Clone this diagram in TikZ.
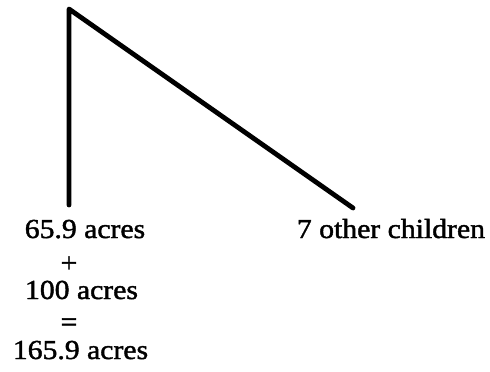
\documentclass[tikz,border=0pt]{standalone}
\usepackage{fontspec}
\setmainfont{Liberation Serif}[FakeStretch=1.08,FakeBold=1.5]
\begin{document}
\begin{tikzpicture}[x=1pt,y=-1pt,
  lbl/.style={inner sep=0pt,anchor=base,font=\fontsize{27.5}{29}\selectfont},
  stroke/.style={line width=4.8pt,line cap=round,line join=round}]
\useasboundingbox (0,0) rectangle (490,372);
\coordinate (top) at (69,9);
\coordinate (vb) at (69,205);
\coordinate (db) at (353,208);
\draw[stroke] (vb) -- (top) -- (db);
\node[lbl] (a) at (85,238) {65.9 acres};
\node[lbl] (p) at (69,272) {+};
\node[lbl] (b) at (81.5,299) {100 acres};
\node[lbl] (e) at (69,331) {=};
\node[lbl] (c) at (80.5,359) {165.9 acres};
\node[lbl] (o) at (391,238) {7 other children};
\end{tikzpicture}
\end{document}
